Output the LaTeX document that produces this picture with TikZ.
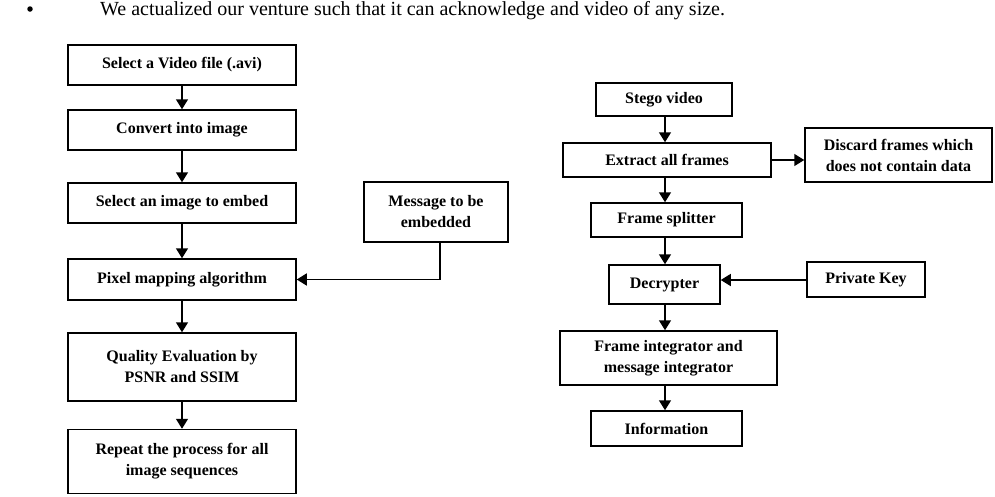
\documentclass[tikz,border=0pt]{standalone}
\usepackage{fontspec}
\setmainfont{Liberation Serif}
\usetikzlibrary{arrows.meta}
\begin{document}
\begin{tikzpicture}[x=1pt,y=-1pt,
  box/.style={draw, line width=1.5pt, align=center, inner sep=0pt,
    font=\fontsize{16}{21}\selectfont\bfseries},
  conn/.style={line width=1.5pt, -{Triangle[width=12pt,length=10pt]}}]
\useasboundingbox (0,0) rectangle (995,496);
% header line
\node[circle, fill, inner sep=0pt, minimum size=5.5pt] (bullet) at (30,9) {};
\node[anchor=base west, inner sep=0pt, font=\fontsize{20}{24}\selectfont] (sent) at (100,15.5)
  {We actualized our venture such that it can acknowledge and video of any size.};
% left column
\node[box, minimum width=228pt, minimum height=40pt] (v1) at (182,65) {Select a Video file (.avi)};
\node[box, minimum width=228pt, minimum height=40pt] (v2) at (182,130) {Convert into image};
\node[box, minimum width=228pt, minimum height=40pt] (v3) at (182,203) {Select an image to embed};
\node[box, minimum width=228pt, minimum height=41pt] (v4) at (182,279.5) {Pixel mapping algorithm};
\node[box, minimum width=228pt, minimum height=68pt] (v5) at (182,367) {Quality Evaluation by\\PSNR and SSIM};
\node[box, minimum width=228pt, minimum height=64pt] (v6) at (182,461.5) {Repeat the process for all\\image sequences};
\node[box, minimum width=144pt, minimum height=60pt] (msg) at (436,212) {Message to be\\embedded};
\draw[conn] (v1) -- (v2);
\draw[conn] (v2) -- (v3);
\draw[conn] (v3) -- (v4);
\draw[conn] (v4) -- (v5);
\draw[conn] (v5) -- (v6);
\draw[conn] ([xshift=4pt]msg.south) |- (v4.east);
% right column
\node[box, minimum width=136pt, minimum height=33pt] (sv) at (664,99.5) {Stego video};
\node[box, minimum width=208pt, minimum height=34pt] (ex) at (667,160) {Extract all frames};
\node[box, minimum width=187pt, minimum height=54pt] (dis) at (898.5,155) {Discard frames which\\does not contain data};
\node[box, minimum width=151pt, minimum height=34pt] (fs) at (666.5,220) {Frame splitter};
\node[box, minimum width=111pt, minimum height=39pt] (dec) at (664.5,284.5) {Decrypter};
\node[box, minimum width=118pt, minimum height=35pt] (pk) at (866,279.5) {Private Key};
\node[box, minimum width=217pt, minimum height=54pt] (fi) at (668.5,358) {Frame integrator and\\message integrator};
\node[box, minimum width=151pt, minimum height=35pt] (inf) at (666.5,428.5) {Information};
\coordinate (rx) at (665,0);
\draw[conn] (sv.south -| rx) -- (ex.north -| rx);
\draw[conn] (ex.south -| rx) -- (fs.north -| rx);
\draw[conn] (fs.south -| rx) -- (dec.north -| rx);
\draw[conn] (dec.south -| rx) -- (fi.north -| rx);
\draw[conn] (fi.south -| rx) -- (inf.north -| rx);
\draw[conn] (ex.east) -- (ex.east -| dis.west);
\draw[conn] (pk.west |- 0,280) -- (dec.east |- 0,280);
\end{tikzpicture}
\end{document}
